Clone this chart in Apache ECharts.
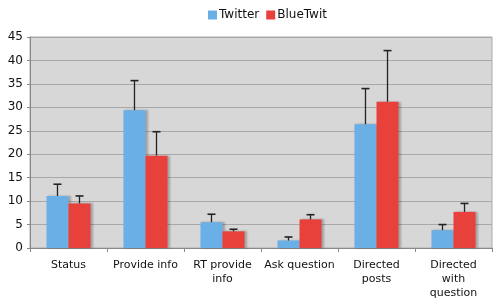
<!DOCTYPE html>
<html><head><meta charset="utf-8">
<script src="https://cdn.jsdelivr.net/npm/echarts@6/dist/echarts.min.js"></script>
<style>html,body{margin:0;padding:0;background:#fff}#c{width:500px;height:302px}</style>
</head><body><div id="c"></div>
<script>
var categories = ['Status', 'Provide info', 'RT provide\ninfo', 'Ask question', 'Directed\nposts', 'Directed\nwith\nquestion'];
var twitter = [11.1, 29.4, 5.5, 1.6, 26.4, 3.8];
var twitterErr = [13.6, 35.7, 7.2, 2.35, 34.0, 5.0];
var bluetwit = [9.5, 19.7, 3.55, 6.1, 31.2, 7.7];
var bluetwitErr = [11.1, 24.8, 4.0, 7.1, 42.1, 9.5];
var yTicks = [0, 5, 10, 15, 20, 25, 30, 35, 40, 45];

var BAR_FRAC = 0.286;
function errSeries(vals, tops, side) {
  return {
    type: 'custom', z: 5,
    data: vals.map(function (v, i) { return [i, v, tops[i]]; }),
    renderItem: function (params, api) {
      var cw = api.size([1, 0])[0];
      var off = side * cw * BAR_FRAC / 2;
      var p0 = api.coord([api.value(0), api.value(1)]);
      var p1 = api.coord([api.value(0), api.value(2)]);
      var x = p0[0] + off;
      var st = { stroke: '#222', lineWidth: 1.3 };
      return { type: 'group', children: [
        { type: 'line', shape: { x1: x, y1: p0[1], x2: x, y2: p1[1] }, style: st },
        { type: 'line', shape: { x1: x - 4, y1: p1[1], x2: x + 4, y2: p1[1] }, style: { stroke: '#222', lineWidth: 1.6 } }
      ]};
    },
    silent: true, tooltip: { show: false }
  };
}

var chart = echarts.init(document.getElementById('c'));
chart.setOption({
  animation: false,
  textStyle: { fontFamily: 'DejaVu Sans' },
  legend: {
    top: 4, left: 203, itemWidth: 9, itemHeight: 9, itemGap: 7,
    icon: 'rect',
    textStyle: { fontSize: 12, color: '#111', padding: [0, 0, 0, -3] },
    data: ['Twitter', 'BlueTwit']
  },
  grid: { left: 30, right: 8, top: 37, bottom: 54, containLabel: false,
          show: true, backgroundColor: '#d7d7d7', borderColor: '#aaa', borderWidth: 1 },
  xAxis: {
    type: 'category', data: categories,
    axisLine: { lineStyle: { color: '#888' } },
    axisTick: { show: true, length: 4, lineStyle: { color: '#888' } },
    axisLabel: { color: '#111', fontSize: 11, lineHeight: 14, interval: 0, margin: 10 }
  },
  yAxis: {
    type: 'value', min: 0, max: 45, interval: 5,
    axisLine: { show: true, lineStyle: { color: '#888' } },
    axisTick: { show: true, length: 3, lineStyle: { color: '#888' } },
    splitLine: { lineStyle: { color: '#a8a8a8' } },
    axisLabel: { color: '#111', fontSize: 12, margin: 7,
      formatter: function (v) { return yTicks.indexOf(v) >= 0 ? String(v) : ''; } }
  },
  series: [
    { name: 'Twitter', type: 'bar', data: twitter, barWidth: (BAR_FRAC * 100) + '%', barGap: '0%',
      itemStyle: { color: '#6aafe6', shadowColor: 'rgba(0,0,0,0.25)', shadowOffsetX: 2, shadowOffsetY: 0, shadowBlur: 2 } },
    { name: 'BlueTwit', type: 'bar', data: bluetwit, barWidth: (BAR_FRAC * 100) + '%', barGap: '0%',
      itemStyle: { color: '#e8403a', shadowColor: 'rgba(0,0,0,0.25)', shadowOffsetX: 2, shadowOffsetY: 0, shadowBlur: 2 } },
    errSeries(twitter, twitterErr, -1),
    errSeries(bluetwit, bluetwitErr, 1)
  ]
});
</script></body></html>
